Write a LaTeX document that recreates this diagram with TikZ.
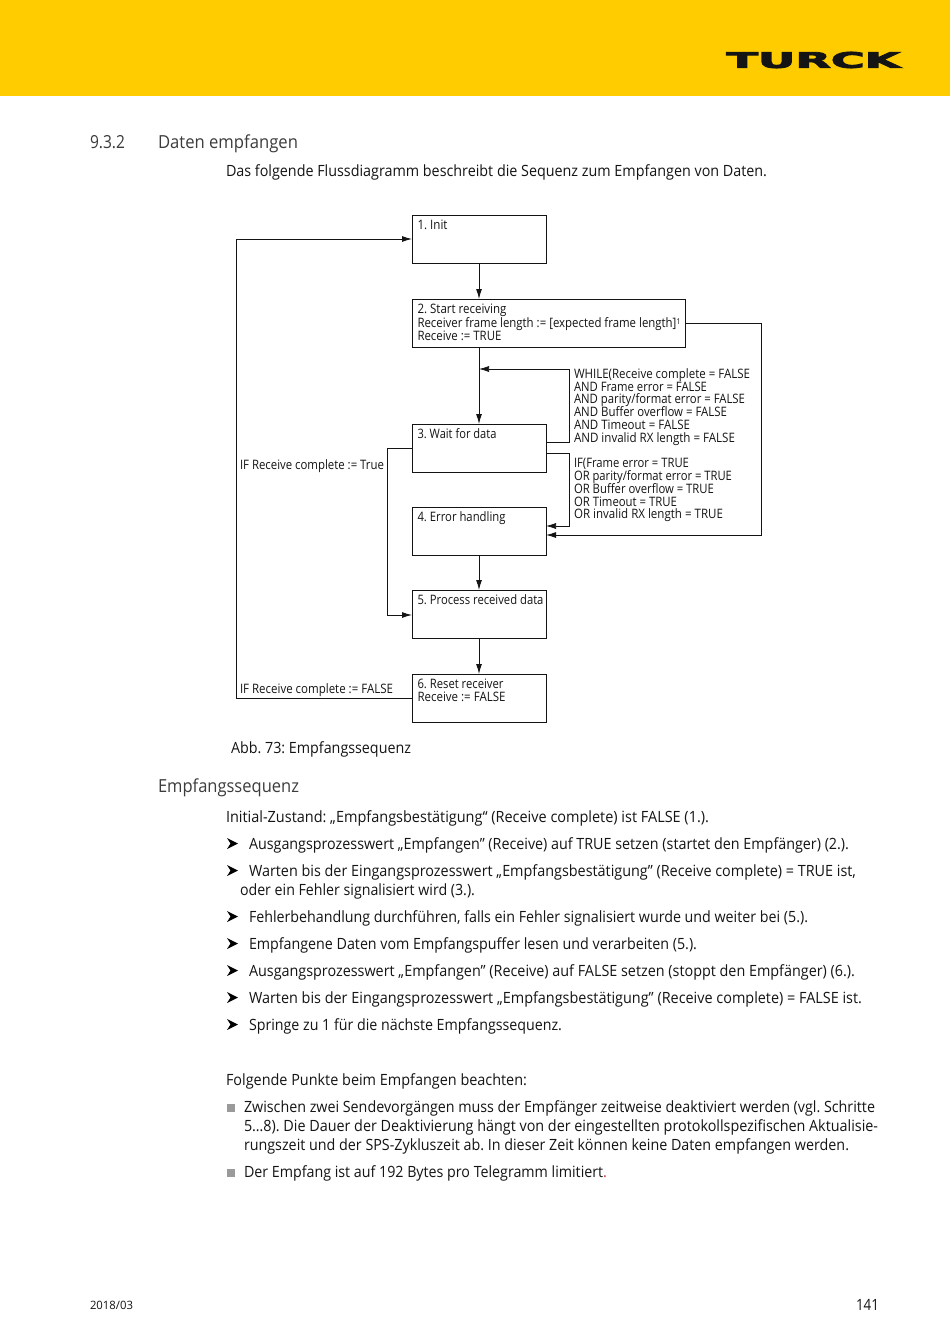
\documentclass[tikz,border=0pt]{standalone}
\usepackage{fontspec}
\usepackage{graphicx}
\usetikzlibrary{arrows.meta}
\setmainfont[FakeStretch=0.9]{Open Sans}
\newfontfamily\logofont[FakeBold=3.5]{DejaVu Sans Bold}
\frenchspacing
\lineskiplimit=-20pt
\definecolor{ink}{HTML}{141414}
\definecolor{head}{HTML}{3C3C3C}
\definecolor{brand}{HTML}{FFCC00}
\definecolor{sq}{HTML}{9A9A9A}
\definecolor{redp}{HTML}{C8323C}
\newlength\fitlen
\newcommand\fitw[2]{\settowidth{\fitlen}{#2}\pgfmathsetmacro\fitr{#1/\fitlen}\scalebox{\fitr}[1]{#2}}
\newcommand\boxtext[3]{\parbox[c][#2pt][t]{#1pt}{\vspace{4.9pt}\hspace*{5.5pt}\begin{minipage}[t]{\dimexpr#1pt-5.5pt}\raggedright\fontsize{13}{12.8}\selectfont #3\end{minipage}}}
\tikzset{
  x=1pt,y=-1pt,
  txt/.style={anchor=base west,inner sep=0,outer sep=0,yshift=-1pt,font=\fontsize{15.5}{18}\selectfont,text=ink},
  hd/.style={txt,font=\fontsize{18}{20}\selectfont,text=head},
  box/.style={draw=ink,line width=0.95pt,inner sep=0,outer sep=0,fill=white,text=ink},
  lab/.style={anchor=north west,inner sep=0,outer sep=0,align=left,text=ink,font=\fontsize{13}{12.8}\selectfont},
  conn/.style={draw=ink,line width=0.95pt,-{Latex[length=10pt,width=6pt]}},
  connthin/.style={conn,line width=0.75pt},
  arrbul/.pic={\fill[black] (0,-5.5)--(11,0)--(0,5.5)--(3.5,0)--cycle;},
  sqbul/.pic={\fill[sq] (0,0) rectangle (8,8);}
}
\begin{document}
\begin{tikzpicture}
\useasboundingbox (0,0) rectangle (950,1343);
\fill[white] (0,0) rectangle (950,1343);
\fill[brand] (0,0) rectangle (950,96);
\node[inner sep=0,text=ink] (logo) at (813.5,60) {\resizebox{174pt}{16pt}{\logofont TURCK}};

\node[hd] (h1) at (90,148) {\fitw{35}{9.3.2}};
\node[hd] (h2) at (158,148) {\fitw{140}{Daten empfangen}};
\node[txt] (intro) at (226,176) {\fitw{541}{Das folgende Flussdiagramm beschreibt die Sequenz zum Empfangen von Daten.}};

% boxes
\node[box] (b1) at (479,239) {\boxtext{134}{48}{\fitw{30}{1. Init}}};
\node[box] (b2) at (548.5,323) {\boxtext{273}{48}{\fitw{89}{2. Start receiving}\\\fitw{259}{Receiver frame length := [expected frame length]}\raisebox{3.5pt}{\fontsize{8}{8}\selectfont 1}\\\fitw{84}{Receive := TRUE}}};
\node[box] (b3) at (479,448) {\boxtext{134}{48}{\fitw{79}{3. Wait for data}}};
\node[box] (b4) at (479,531) {\boxtext{134}{48}{\fitw{88}{4. Error handling}}};
\node[box] (b5) at (479,614) {\boxtext{134}{48}{\fitw{126}{5. Process received data}}};
\node[box] (b6) at (479,698) {\boxtext{134}{48}{\fitw{86}{6. Reset receiver}\\\fitw{88}{Receive := FALSE}}};

% labels
\node[lab] (lwhile) at (574,368.5) {\fitw{176}{WHILE(Receive complete = FALSE}\\\fitw{133}{AND Frame error = FALSE}\\\fitw{171}{AND parity/format error = FALSE}\\\fitw{153}{AND Buffer overflow = FALSE}\\\fitw{116}{AND Timeout = FALSE}\\\fitw{161}{AND invalid RX length = FALSE}};
\node[lab] (lif) at (574,458.5) {\fitw{115}{IF(Frame error = TRUE}\\\fitw{158}{OR parity/format error = TRUE}\\\fitw{140}{OR Buffer overflow = TRUE}\\\fitw{103}{OR Timeout = TRUE}\\\fitw{149}{OR invalid RX length = TRUE}};
\node[lab] (ltrue) at (240,460) {\fitw{144}{IF Receive complete := True}};
\node[lab] (lfalse) at (240,683.5) {\fitw{153}{IF Receive complete := FALSE}};

% connectors
\coordinate (j1) at (479,369);
\coordinate (w0) at (546,442);
\coordinate (w1) at (569,442);
\coordinate (w2) at (569,369);
\coordinate (e0) at (546,453);
\coordinate (e1) at (569,453);
\coordinate (e2) at (569,526);
\coordinate (e3) at (546,526);
\coordinate (r1) at (761,323);
\coordinate (r2) at (761,535);
\coordinate (r3) at (546,535);
\coordinate (l1) at (387,448);
\coordinate (l2) at (387,615);
\coordinate (l3) at (412,615);
\coordinate (f1) at (236,698);
\coordinate (f2) at (236,239);

\path (b2.north west -| b1.south) coordinate (b2top);
\draw[conn] (b1.south) -- (b2top);
\draw[conn] (b2.south -| b1.south) -- (b3.north);
\draw[conn] (b4.south) -- (b5.north);
\draw[conn] (b5.south) -- (b6.north);
\draw[connthin] (w0) -- (w1) -- (w2) -- (j1);
\draw[connthin] (e0) -- (e1) -- (e2) -- (e3);
\draw[conn] (b2.east) -- (r1) -- (r2) -- (r3);
\draw[conn] (b3.west) -- (l1) -- (l2) -- (l3);
\draw[conn] (b6.west) -- (f1) -- (f2) -- (b1.west);

\node[txt] (cap) at (231,752) {\fitw{180}{Abb. 73: Empfangssequenz}};
\node[hd] (h3) at (158,791) {\fitw{141}{Empfangssequenz}};
\node[txt] (p1) at (226,821) {\fitw{483}{Initial-Zustand: „Empfangsbestätigung“ (Receive complete) ist FALSE (1.).}};

\pic at (227,843.5) {arrbul};
\node[txt] (p2) at (249,848) {\fitw{600}{Ausgangsprozesswert „Empfangen” (Receive) auf TRUE setzen (startet den Empfänger) (2.).}};
\pic at (227,870.5) {arrbul};
\node[txt] (p3) at (249,875) {\fitw{607}{Warten bis der Eingangsprozesswert „Empfangsbestätigung” (Receive complete) = TRUE ist,}};
\node[txt] (p3b) at (240,894) {\fitw{235}{oder ein Fehler signalisiert wird (3.).}};
\pic at (227,916.5) {arrbul};
\node[txt] (p4) at (249,921) {\fitw{559}{Fehlerbehandlung durchführen, falls ein Fehler signalisiert wurde und weiter bei (5.).}};
\pic at (227,943.5) {arrbul};
\node[txt] (p5) at (249,948) {\fitw{448}{Empfangene Daten vom Empfangspuffer lesen und verarbeiten (5.).}};
\pic at (227,970.5) {arrbul};
\node[txt] (p6) at (249,975) {\fitw{606}{Ausgangsprozesswert „Empfangen” (Receive) auf FALSE setzen (stoppt den Empfänger) (6.).}};
\pic at (227,997.5) {arrbul};
\node[txt] (p7) at (249,1002) {\fitw{613}{Warten bis der Eingangsprozesswert „Empfangsbestätigung” (Receive complete) = FALSE ist.}};
\pic at (227,1024.5) {arrbul};
\node[txt] (p8) at (249,1029) {\fitw{313}{Springe zu 1 für die nächste Empfangssequenz.}};

\node[txt] (q0) at (226,1084) {\fitw{301}{Folgende Punkte beim Empfangen beachten:}};
\pic at (227,1104) {sqbul};
\node[txt] (q1) at (244,1111) {\fitw{631}{Zwischen zwei Sendevorgängen muss der Empfänger zeitweise deaktiviert werden (vgl. Schritte}};
\node[txt] (q1b) at (244,1130) {\fitw{634}{5…8). Die Dauer der Deaktivierung hängt von der eingestellten protokollspezifischen Aktualisie-}};
\node[txt] (q1c) at (244,1149) {\fitw{605}{rungszeit und der SPS-Zykluszeit ab. In dieser Zeit können keine Daten empfangen werden.}};
\pic at (227,1169) {sqbul};
\node[txt] (q2) at (244,1176) {\fitw{363}{Der Empfang ist auf 192 Bytes pro Telegramm limitiert\textcolor{redp}{.}}};

\node[txt,font=\fontsize{11.5}{13}\selectfont] (date) at (90,1308) {\fitw{43}{2018/03}};
\node[txt] (page) at (856,1309) {\fitw{23}{141}};
\end{tikzpicture}
\end{document}
